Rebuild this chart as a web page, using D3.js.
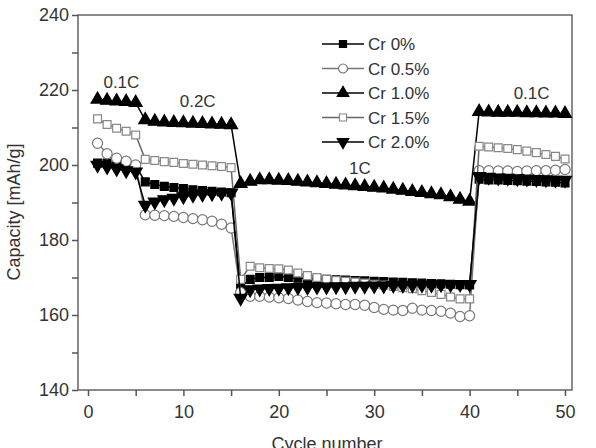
<!DOCTYPE html>
<html>
<head>
<meta charset="utf-8">
<script src="https://cdn.jsdelivr.net/npm/d3@7"></script>
<style>
    body { margin: 0; background: #fff; }
    text { font-family: "Liberation Sans", Arial, sans-serif; fill: #333; }
</style>
</head>
<body>
<div id="chart"></div>
<script>

// cycle numbers 1..50
var cycles = d3.range(1, 51);

var seriesNames = ["Cr 0%", "Cr 0.5%", "Cr 1.0%", "Cr 1.5%", "Cr 2.0%"];

var cr00 = [200.5, 200.5, 200.2, 200, 199.8,
    195.5, 194.8, 194.3, 194, 193.7, 193.4, 193.2, 193, 192.8, 192.6,
    167.5, 169.5, 170, 170, 170.3, 170, 169.8, 169.7, 169.6, 169.5, 169.4, 169.3, 169.2,
    169.1, 169, 168.9, 168.8, 168.7, 168.6, 168.5, 168.4, 168.3, 168.2, 168.1, 168,
    196.2, 196, 196, 195.9, 195.8, 195.7, 195.6, 195.5, 195.4, 195.2];

var cr05 = [205.8, 203, 201.8, 201, 200,
    186.7, 186.6, 186.5, 186.3, 186, 185.7, 185.4, 185, 184.2, 183.2,
    166, 165, 165, 164.8, 164.6, 164.4, 164, 163.6, 163.3, 163.2, 163, 162.8, 162.8,
    162.6, 162, 161.5, 161.3, 161.2, 161.8, 161.3, 161.2, 161, 160.5, 159.6, 159.8,
    198.5, 198.5, 198.4, 198.4, 198.3, 198.4, 198.5, 198.5, 198.6, 198.8];

var cr10 = [217.5, 217.2, 217, 216.9, 216.6,
    212, 211.6, 211.4, 211.3, 211.2, 211.1, 211, 210.9, 210.8, 210.7,
    195, 195.6, 196, 196, 195.9, 195.8, 195.6, 195.4, 195.2, 195, 194.8, 194.6, 194.4,
    194.2, 194, 193.8, 193.5, 193.2, 192.9, 192.6, 192.3, 192, 191.5, 190.8, 190.3,
    214.2, 214.1, 214, 214, 214, 213.9, 213.9, 213.8, 213.8, 213.7];

var cr15 = [212.3, 210.8, 209.8, 209, 208,
    201.5, 201.2, 200.9, 200.7, 200.4, 200.2, 200, 199.8, 199.6, 199.3,
    169.5, 173, 172.6, 172.4, 172.3, 172, 171.2, 170.5, 170, 169.5, 169.2, 169, 168.8,
    168.5, 168.2, 168, 167.6, 167.3, 167, 166.5, 166, 165.5, 164.8, 164.3, 164.3,
    205, 204.8, 204.6, 204.4, 204.1, 203.7, 203.3, 202.8, 202.3, 201.6];

var cr20 = [200, 199.5, 199, 198.5, 198.2,
    189.3, 190.2, 190.8, 191.2, 191.6, 192, 192.2, 192.4, 192.5, 192.6,
    164.5, 166.8, 167, 167.1, 167.2, 167.3, 167.4, 167.4, 167.5, 167.5, 167.6, 167.6, 167.7,
    167.7, 167.8, 167.8, 167.9, 167.9, 168, 168, 168, 168.1, 168.1, 168.2, 168.2,
    197, 196.8, 196.6, 196.5, 196.4, 196.3, 196.2, 196.1, 196, 196];

// rate labels: [cycle, capacity, text]
var rateLabels = [[3.5, 220.5, "0.1C"], [11.5, 215.5, "0.2C"], [28.5, 197.5, "1C"], [46.5, 217.5, "0.1C"]];

var xTicks = [0, 10, 20, 30, 40, 50];
var yTicks = [140, 160, 180, 200, 220, 240];

var width = 596, height = 448;

var svg = d3.select("#chart").append("svg")
    .attr("width", width)
    .attr("height", height);

var x = d3.scaleLinear().domain([0, 50]).range([88, 565]);
var y = d3.scaleLinear().domain([140, 240]).range([390, 15]);

var frame = {left: 78, right: 572, top: 15, bottom: 390};

// marker styles per series
var styles = [
    {data: cr00, symbol: d3.symbolSquare, size: 62, fill: "#000", stroke: "#000", line: "#000", rot: 0},
    {data: cr05, symbol: d3.symbolCircle, size: 80, fill: "#fff", stroke: "#777", line: "#777", rot: 0},
    {data: cr10, symbol: d3.symbolTriangle, size: 72, fill: "#000", stroke: "#000", line: "#000", rot: 0},
    {data: cr15, symbol: d3.symbolSquare, size: 62, fill: "#fff", stroke: "#888", line: "#666", rot: 0},
    {data: cr20, symbol: d3.symbolTriangle, size: 72, fill: "#000", stroke: "#000", line: "#000", rot: 180}
];

// frame
svg.append("rect")
    .attr("x", frame.left)
    .attr("y", frame.top)
    .attr("width", frame.right - frame.left)
    .attr("height", frame.bottom - frame.top)
    .attr("fill", "none")
    .attr("stroke", "#666")
    .attr("stroke-width", 1.5);

// x axis
var xAxis = d3.axisBottom(x).tickValues(d3.range(0, 51, 5)).tickSize(6)
    .tickFormat(function(d) { return xTicks.indexOf(d) >= 0 ? d : ""; });
var gx = svg.append("g").attr("transform", "translate(0," + frame.bottom + ")").call(xAxis);
gx.select(".domain").remove();
gx.selectAll("line").attr("stroke", "#555").attr("stroke-width", 1.5);
gx.selectAll("text").attr("font-size", 18).attr("dy", "1.05em").style("fill", "#333");

// y axis
var yAxis = d3.axisLeft(y).tickValues(d3.range(140, 241, 10)).tickSize(6)
    .tickFormat(function(d) { return yTicks.indexOf(d) >= 0 ? d : ""; });
var gy = svg.append("g").attr("transform", "translate(" + frame.left + ",0)").call(yAxis);
gy.select(".domain").remove();
gy.selectAll("line").attr("stroke", "#555").attr("stroke-width", 1.5);
gy.selectAll("text").attr("font-size", 18).attr("x", -9).style("fill", "#333");

// axis titles (reference clips the x title at the bottom edge)
svg.append("text")
    .attr("x", 327).attr("y", 450)
    .attr("text-anchor", "middle")
    .attr("font-size", 18)
    .text("Cycle number");

svg.append("text")
    .attr("transform", "translate(20,212) rotate(-90)")
    .attr("text-anchor", "middle")
    .attr("font-size", 18)
    .text("Capacity [mAh/g]");

// series lines and markers
var line = d3.line()
    .x(function(d, i) { return x(cycles[i]); })
    .y(function(d) { return y(d); });

styles.forEach(function(s) {
    svg.append("path")
        .datum(s.data)
        .attr("d", line)
        .attr("fill", "none")
        .attr("stroke", s.line)
        .attr("stroke-width", 1.5);

    svg.append("g").selectAll("path")
        .data(s.data)
        .enter().append("path")
        .attr("d", d3.symbol().type(s.symbol).size(s.size))
        .attr("transform", function(d, i) {
            return "translate(" + x(cycles[i]) + "," + y(d) + ") rotate(" + s.rot + ")";
        })
        .attr("fill", s.fill)
        .attr("stroke", s.stroke)
        .attr("stroke-width", 1.2);
});

// rate labels
svg.selectAll(".rate").data(rateLabels)
    .enter().append("text")
    .attr("class", "rate")
    .attr("x", function(d) { return x(d[0]); })
    .attr("y", function(d) { return y(d[1]); })
    .attr("text-anchor", "middle")
    .attr("font-size", 17)
    .text(function(d) { return d[2]; });

// legend
var legend = svg.append("g").attr("transform", "translate(322,44)");
var rows = legend.selectAll("g").data(styles)
    .enter().append("g")
    .attr("transform", function(d, i) { return "translate(0," + i * 24.5 + ")"; });

rows.append("line")
    .attr("x1", 0).attr("x2", 42)
    .attr("stroke", function(d) { return d.line; })
    .attr("stroke-width", 1.5);

rows.append("path")
    .attr("d", function(d) { return d3.symbol().type(d.symbol).size(d.size * 0.8)(); })
    .attr("transform", function(d) { return "translate(21,0) rotate(" + d.rot + ")"; })
    .attr("fill", function(d) { return d.fill; })
    .attr("stroke", function(d) { return d.stroke; })
    .attr("stroke-width", 1.2);

rows.append("text")
    .attr("x", 46).attr("y", 6)
    .attr("font-size", 17)
    .text(function(d, i) { return seriesNames[i]; });

</script>
</body>
</html>
